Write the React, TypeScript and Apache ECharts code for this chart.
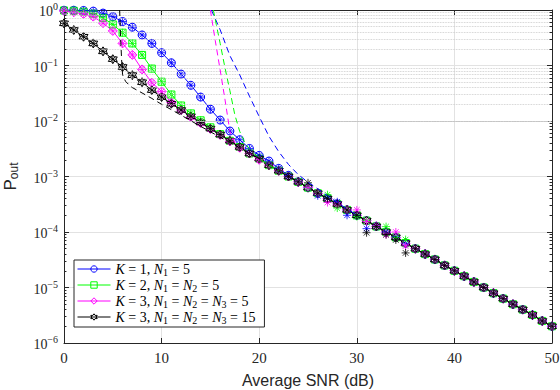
import React, { useEffect, useRef } from 'react';
import * as echarts from 'echarts';

// Average SNR (dB) sample points
const snrDb = [0, 1, 2, 3, 4, 5, 6, 7, 8, 9, 10, 11, 12, 13, 14, 15, 16, 17, 18, 19, 20,
  21, 22, 23, 24, 25, 26, 27, 28, 29, 30, 31, 32, 33, 34, 35, 36, 37, 38, 39, 40,
  41, 42, 43, 44, 45, 46, 47, 48, 49, 50];

// analytical outage probability, 0..23 dB
const blueLow = [0.99, 0.99, 0.98, 0.955, 0.88, 0.76, 0.62, 0.49, 0.355, 0.25, 0.17, 0.112, 0.070, 0.044, 0.027, 0.0163, 0.0104, 0.0066, 0.0046, 0.0032, 0.0024, 0.0019, 0.0014, 0.00105];
const greenLow = [0.98, 0.97, 0.93, 0.86, 0.72, 0.55, 0.39, 0.25, 0.155, 0.088, 0.051, 0.030, 0.019, 0.0137, 0.0103, 0.0077, 0.0058, 0.0044, 0.0034, 0.0026, 0.0021, 0.0016, 0.00127, 0.001];
const magentaLow = [0.96, 0.91, 0.85, 0.76, 0.58, 0.42, 0.25, 0.155, 0.085, 0.049, 0.034, 0.0214, 0.0158, 0.0118, 0.0092, 0.0072, 0.0056, 0.0043, 0.0033, 0.0026, 0.002, 0.0016, 0.00127, 0.001];
const blackLow = [0.575, 0.436, 0.33, 0.25, 0.18, 0.13, 0.094, 0.067, 0.050, 0.036, 0.027, 0.0205, 0.0158, 0.0122, 0.0094, 0.0073, 0.0057, 0.0044, 0.0034, 0.0026, 0.0021, 0.0016, 0.00127, 0.001];
// common high-SNR part, 24..50 dB
const highSnrTail = [8.0e-4, 6.3e-4, 5.0e-4, 4.0e-4, 3.2e-4, 2.5e-4, 2.0e-4, 1.6e-4, 1.26e-4, 1.0e-4, 8.0e-5, 6.3e-5, 5.0e-5, 4.0e-5, 3.2e-5, 2.5e-5, 2.0e-5, 1.6e-5, 1.26e-5, 1.0e-5, 7.9e-6, 6.3e-6, 5.0e-6, 4.0e-6, 3.2e-6, 2.5e-6, 2.0e-6];

// simulated (Monte Carlo) values, 24..36 dB
const simBlueMid = [8.2e-4, 6.3e-4, 4.5e-4, 4.1e-4, 3.5e-4, 2.0e-4, 2.0e-4, 1.15e-4, 1.3e-4, 1.0e-4, 8.2e-5, 6.3e-5, 5.0e-5];
const simGreenMid = [8.0e-4, 6.2e-4, 5.1e-4, 4.7e-4, 2.7e-4, 2.5e-4, 1.9e-4, 1.6e-4, 1.26e-4, 1.25e-4, 8.0e-5, 7.3e-5, 5.0e-5];
const simMagentaMid = [7.9e-4, 6.4e-4, 5.0e-4, 3.4e-4, 3.1e-4, 2.5e-4, 2.5e-4, 1.55e-4, 1.3e-4, 8.9e-5, 1.0e-4, 5.6e-5, 5.0e-5];
const simBlackMid = [8.0e-4, 7.7e-4, 5.0e-4, 4.0e-4, 3.2e-4, 2.5e-4, 2.0e-4, 9.7e-5, 1.26e-4, 9.0e-5, 7.2e-5, 4.2e-5, 5.0e-5];

// asymptotic (dashed) curves
const blueDashX = [15.1, 16, 17, 18, 19, 20, 21, 22, 23, 24, 25, 26, 27, 28, 29, 30];
const blueDashY = [1.0, 0.44, 0.15, 0.068, 0.028, 0.012, 0.0053, 0.0028, 0.00165, 0.00108, 7.9e-4, 6.0e-4, 4.5e-4, 3.4e-4, 2.6e-4, 2.03e-4];
const greenDashX = [15.3, 15.6, 16, 16.5, 17, 17.5, 18, 18.5, 19, 20, 21, 22];
const greenDashY = [1.0, 0.55, 0.25, 0.09, 0.035, 0.013, 0.0065, 0.0042, 0.0031, 0.0021, 0.0016, 0.00127];
const magentaDashX = [15.0, 15.5, 16, 16.5, 17, 17.5, 18, 19, 20];
const magentaDashY = [1.0, 0.28, 0.083, 0.024, 0.0065, 0.0041, 0.0033, 0.0026, 0.002];
const blackDashX = [5.7, 5.8, 5.9, 6.0, 6.3, 6.7, 7, 8, 9, 10, 11, 12, 13, 14, 15, 16, 17, 18, 19, 20];
const blackDashY = [1.0, 0.32, 0.13, 0.068, 0.052, 0.044, 0.040, 0.032, 0.0255, 0.020, 0.016, 0.0127, 0.0101, 0.0080, 0.0064, 0.0051, 0.0041, 0.0033, 0.0026, 0.0021];

const legendNames = ['k1', 'k2', 'k3a', 'k3b'];
const legendColors = ['#0000ff', '#00ff00', '#ff00ff', '#000000'];
const legendLabels: Record<string, string> = {
  k1: '{i|K} = 1, {i|N}{s|1} = 5',
  k2: '{i|K} = 2, {i|N}{s|1} = {i|N}{s|2} = 5',
  k3a: '{i|K} = 3, {i|N}{s|1} = {i|N}{s|2} = {i|N}{s|3} = 5',
  k3b: '{i|K} = 3, {i|N}{s|1} = {i|N}{s|2} = {i|N}{s|3} = 15',
};

const ASTERISK = 'path://M0,-10L0,10M-10,0L10,0M-7,-7L7,7M-7,7L7,-7';
const HEXAGRAM = 'path://M0,-10L2.89,-5L8.66,-5L5.77,0L8.66,5L2.89,5L0,10L-2.89,5L-8.66,5L-5.77,0L-8.66,-5L-2.89,-5Z';

const AX = '#262626';

export default function App() {
  const ref = useRef<HTMLDivElement>(null);
  useEffect(() => {
    if (!ref.current) return;
    const chart = echarts.init(ref.current, undefined, { renderer: 'svg' });

    const pairs = (arr: number[]) => snrDb.map((x, i) => [x, arr[i]]);
    const zip = (xs: number[], ys: number[]) => xs.map((x, i) => [x, ys[i]]);
    const full = (low: number[]) => low.concat(highSnrTail);
    const sim = (low: number[], mid: number[]) => low.concat(mid, highSnrTail.slice(mid.length));

    const minorVals: number[] = [];
    for (let e = -6; e <= -1; e++) for (let m = 2; m <= 9; m++) minorVals.push(Number((m * Math.pow(10, e)).toPrecision(3)));

    const analytic = (name: string, low: number[], color: string, symbol: string, size: number, z: number) => ({
      type: 'line', name, data: pairs(full(low)), symbol, symbolSize: size, showSymbol: true, color,
      lineStyle: { color, width: 1 }, itemStyle: { color: 'rgba(255,255,255,0)', borderColor: color, borderWidth: 1 },
      z, emphasis: { disabled: true },
    });
    const simulated = (low: number[], mid: number[], color: string, z: number) => ({
      type: 'scatter', name: 'sim-' + color, data: pairs(sim(low, mid)), symbol: ASTERISK, symbolSize: 8,
      itemStyle: { color: 'rgba(255,255,255,0)', borderColor: color, borderWidth: 1 }, z, emphasis: { disabled: true },
    });
    const dashed = (xs: number[], ys: number[], color: string) => ({
      type: 'line', name: 'asym-' + color, data: zip(xs, ys), symbol: 'none', showSymbol: false,
      lineStyle: { color, width: 1, type: [6, 4] }, z: 5,
    });

    const tickSegs: any[] = [];
    minorVals.forEach((v) => {
      tickSegs.push([{ coord: [0, v] }, { coord: [0.25, v] }]);
      tickSegs.push([{ coord: [49.75, v] }, { coord: [50, v] }]);
    });

    const option: any = {
      animation: false,
      backgroundColor: '#ffffff',
      grid: { left: 64, right: 8, top: 10, bottom: 47, containLabel: false, outerBoundsMode: 'none' },
      xAxis: [
        {
          type: 'value', min: 0, max: 50, interval: 10, position: 'bottom',
          axisLine: { show: true, onZero: false, lineStyle: { color: AX, width: 1 } },
          axisTick: { show: true, inside: true, length: 5, lineStyle: { color: AX } },
          axisLabel: { color: AX, fontFamily: 'Liberation Serif', fontSize: 15, margin: 7 },
          splitLine: { show: true, lineStyle: { color: '#e2e2e2', width: 1 } },
          name: 'Average SNR (dB)', nameLocation: 'middle', nameGap: 29,
          nameTextStyle: { fontFamily: 'Liberation Sans', fontSize: 16, color: AX },
        },
        {
          type: 'value', min: 0, max: 50, interval: 10, position: 'top',
          axisLine: { show: true, onZero: false, lineStyle: { color: AX, width: 1 } },
          axisTick: { show: true, inside: true, length: 5, lineStyle: { color: AX } },
          axisLabel: { show: false }, splitLine: { show: false },
        },
      ],
      yAxis: [
        {
          type: 'log', logBase: 10, min: 1e-6, max: 1, position: 'left',
          axisLine: { show: true, onZero: false, lineStyle: { color: AX, width: 1 } },
          axisTick: { show: true, inside: true, length: 5, lineStyle: { color: AX } },
          axisLabel: {
            color: AX, margin: 6,
            formatter: (v: number) => {
              const e = Math.round(Math.log10(v));
              return '{b|10}{e|' + (e < 0 ? '\u2212' + -e : String(e)) + '}';
            },
            rich: {
              b: { fontFamily: 'Liberation Serif', fontSize: 14, color: AX, padding: [3, 0, 0, 0] },
              e: { fontFamily: 'Liberation Serif', fontSize: 10, color: AX, verticalAlign: 'top' },
            },
          },
          splitLine: { show: true, lineStyle: { color: '#e2e2e2', width: 1 } },
          name: '{p|P}{s|out}', nameLocation: 'middle', nameGap: 44, nameRotate: 90,
          nameTextStyle: {
            rich: {
              p: { fontFamily: 'Liberation Sans', fontSize: 17, color: AX },
              s: { fontFamily: 'Liberation Sans', fontSize: 12, color: AX, padding: [7, 0, 0, 0] },
            },
          },
        },
        {
          type: 'log', logBase: 10, min: 1e-6, max: 1, position: 'right',
          axisLine: { show: true, onZero: false, lineStyle: { color: AX, width: 1 } },
          axisTick: { show: true, inside: true, length: 5, lineStyle: { color: AX } },
          axisLabel: { show: false }, splitLine: { show: false },
        },
      ],
      legend: {
        data: legendNames.map((n, i) => ({
          name: n,
          itemStyle: { color: 'rgba(255,255,255,0)', borderColor: legendColors[i], borderWidth: 1 },
          lineStyle: { color: legendColors[i], width: 1 },
        })),
        orient: 'vertical', left: 74, top: 260,
        backgroundColor: '#ffffff', borderColor: AX, borderWidth: 1, borderRadius: 0,
        padding: [2, 9, 2, 3], itemWidth: 33, itemHeight: 8, itemGap: 1,
        formatter: (n: string) => legendLabels[n],
        textStyle: {
          fontFamily: 'Liberation Serif', fontSize: 14, color: '#000',
          rich: {
            i: { fontFamily: 'Liberation Serif', fontStyle: 'italic', fontSize: 14, color: '#000' },
            s: { fontFamily: 'Liberation Serif', fontSize: 10, color: '#000', padding: [6, 0, 0, 0] },
          },
        },
        selectedMode: false,
      },
      series: [
        {
          type: 'line', name: 'minor-grid', data: [], silent: true, z: 1,
          markLine: {
            silent: true, symbol: ['none', 'none'], label: { show: false }, animation: false,
            lineStyle: { type: 'dotted', color: '#c4c4c4', width: 0.8 },
            emphasis: { disabled: true },
            data: minorVals.map((v) => ({ yAxis: v })),
          },
        },
        {
          type: 'line', name: 'minor-ticks', data: [], silent: true, z: 6,
          markLine: {
            silent: true, symbol: ['none', 'none'], label: { show: false }, animation: false,
            lineStyle: { type: 'solid', color: AX, width: 1 },
            emphasis: { disabled: true },
            data: tickSegs,
          },
        },
        analytic('k1', blueLow, '#0000ff', 'circle', 8, 3),
        analytic('k2', greenLow, '#00ff00', 'rect', 7, 3),
        analytic('k3a', magentaLow, '#ff00ff', 'diamond', 9, 3),
        analytic('k3b', blackLow, '#000000', HEXAGRAM, 9, 3),
        simulated(blueLow, simBlueMid, '#0000ff', 4),
        simulated(greenLow, simGreenMid, '#00ff00', 4),
        simulated(magentaLow, simMagentaMid, '#ff00ff', 4),
        simulated(blackLow, simBlackMid, '#000000', 4),
        dashed(blueDashX, blueDashY, '#0000ff'),
        dashed(greenDashX, greenDashY, '#00ff00'),
        dashed(magentaDashX, magentaDashY, '#ff00ff'),
        dashed(blackDashX, blackDashY, '#000000'),
      ],
    };
    chart.setOption(option);
    return () => chart.dispose();
  }, []);
  return <div ref={ref} style={{ position: 'absolute', left: 0, top: 0, width: 560, height: 390 }} />;
}
